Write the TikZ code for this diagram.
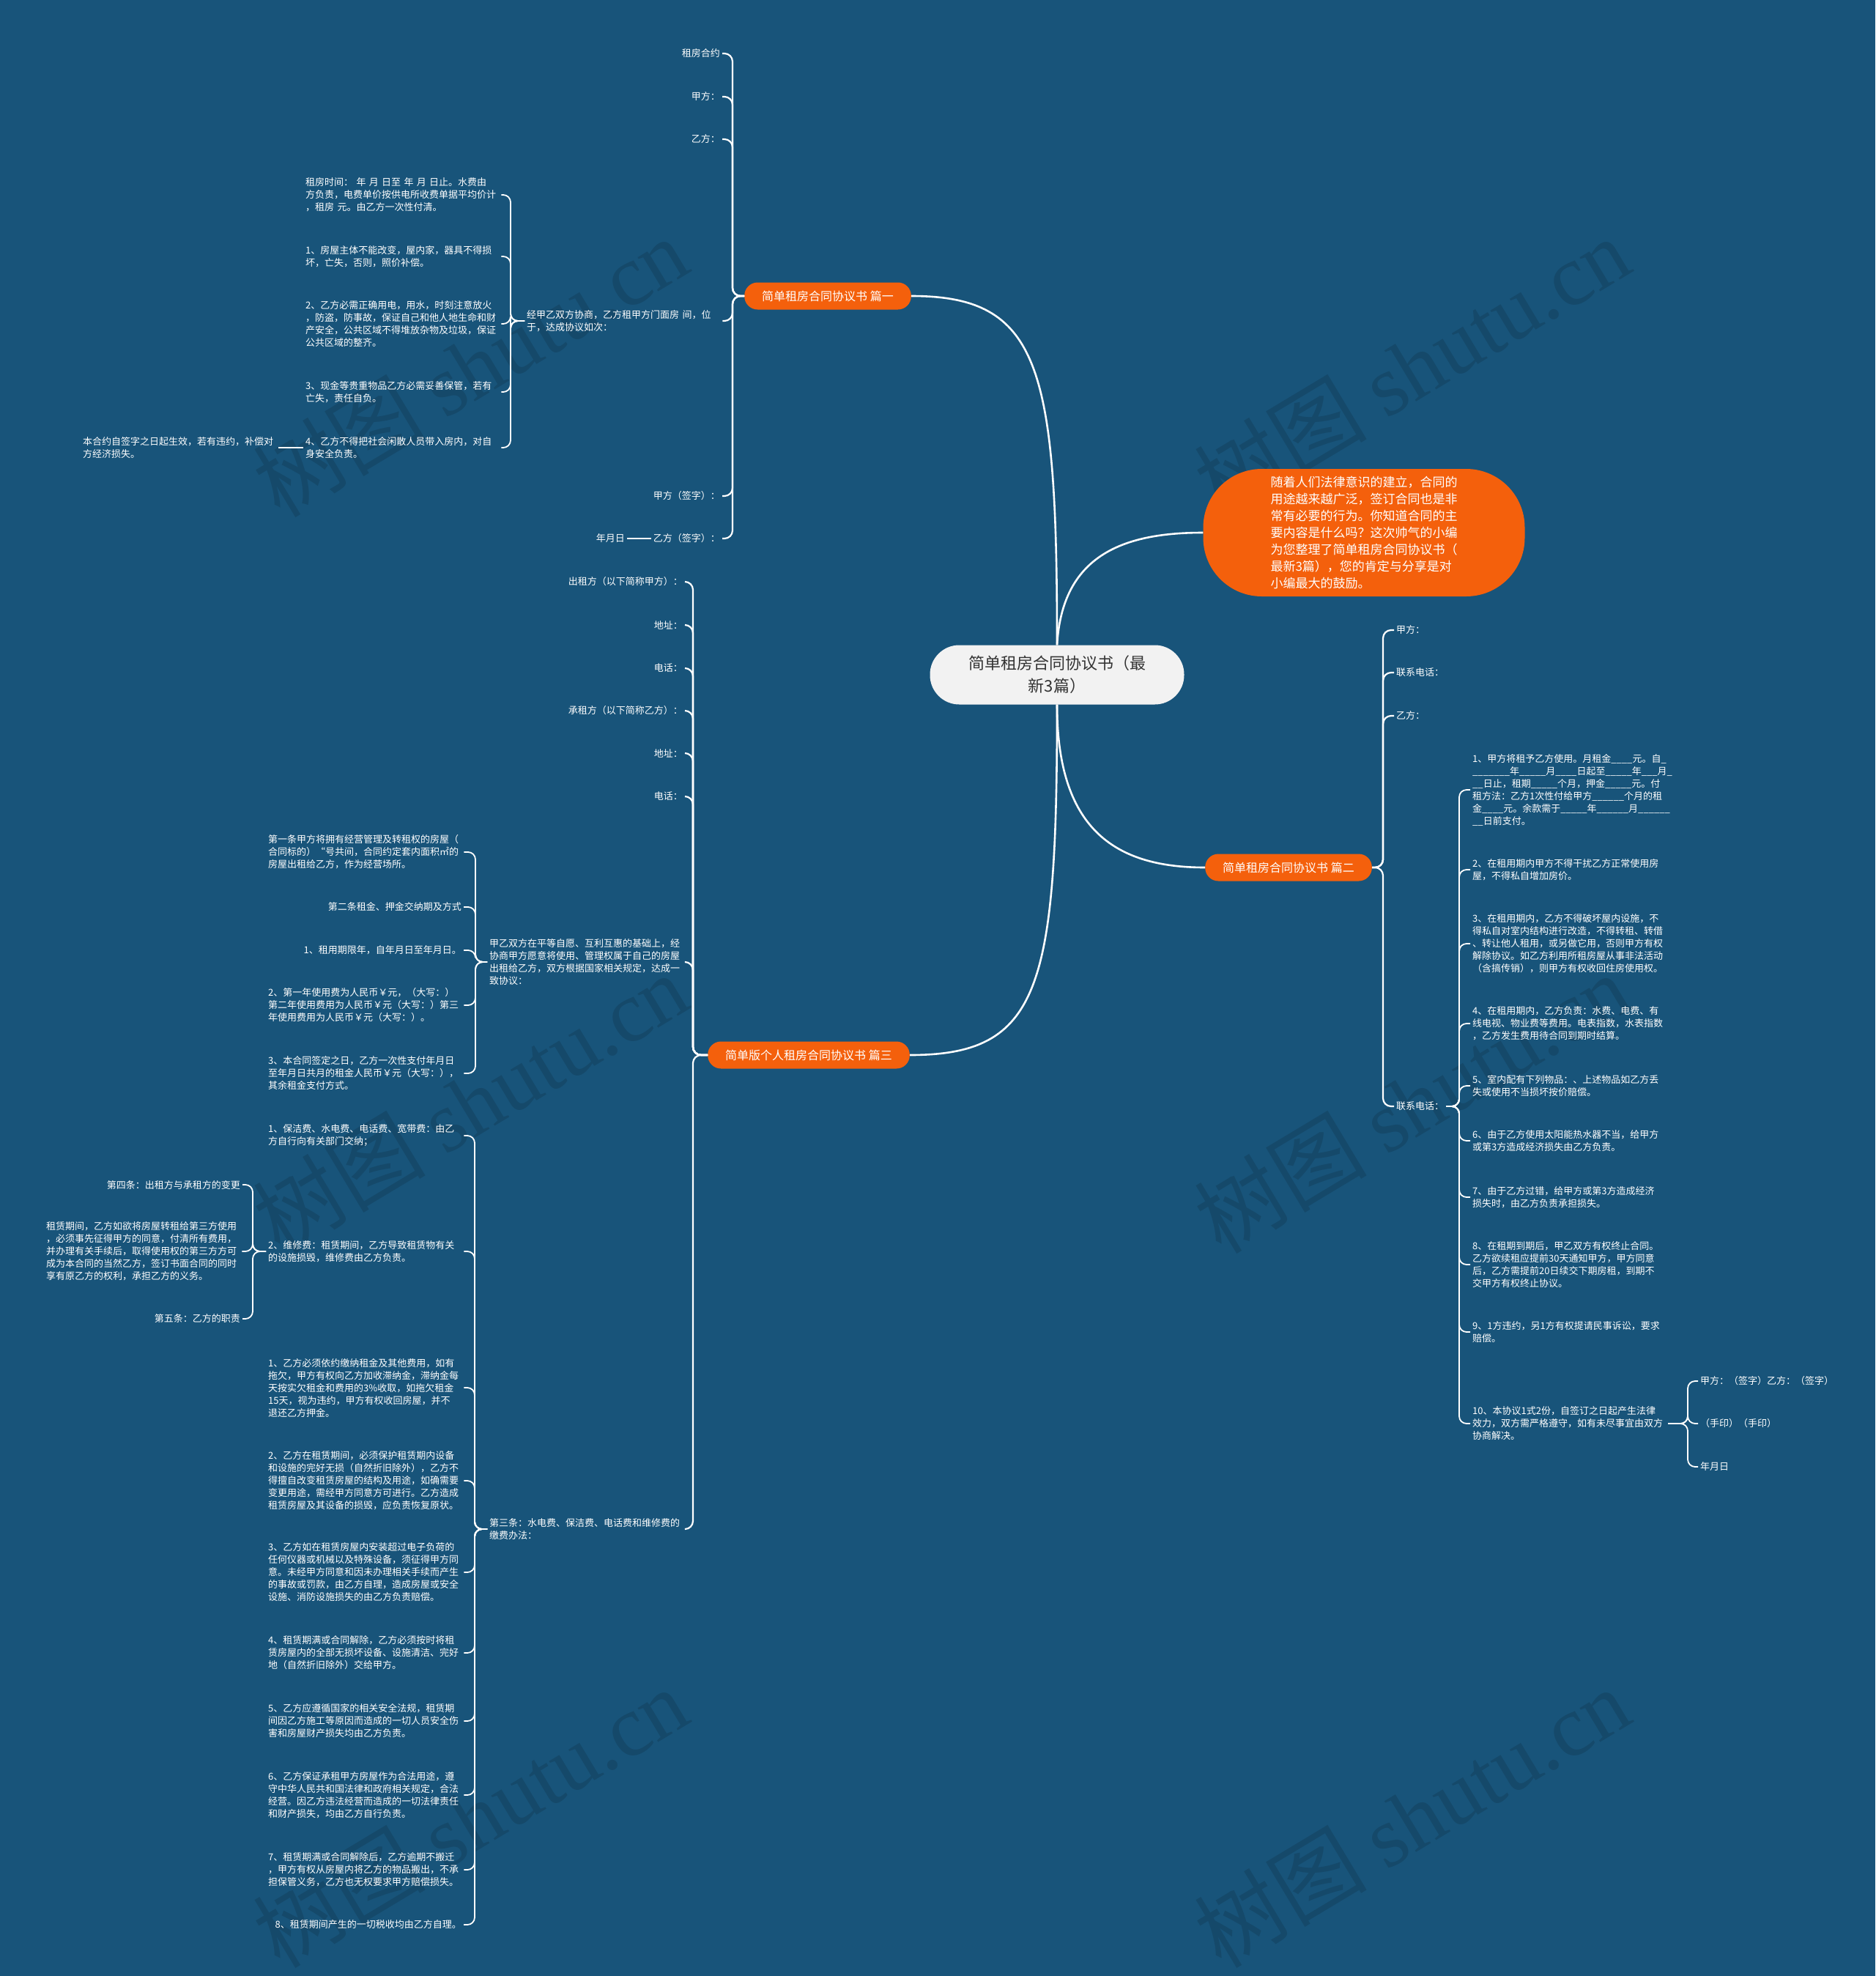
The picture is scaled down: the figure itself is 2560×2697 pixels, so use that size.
\documentclass[tikz,border=0pt]{standalone}
\usepackage{fontspec}
\setmainfont{Noto Sans CJK SC}
\newfontfamily\wmfont{Liberation Serif}
\definecolor{bg}{RGB}{24,84,122}
\definecolor{orng}{RGB}{244,96,12}
\definecolor{ctr}{RGB}{242,242,242}
\definecolor{ctrtext}{RGB}{51,51,51}
\tikzset{
  leaf/.style={text=white, font=\fontsize{13}{17}\selectfont, inner xsep=3pt, inner ysep=2pt},
  mleaf/.style={leaf, text width=264pt, align=left},
  branch/.style={rounded corners=18pt, fill=orng, text=white, font=\fontsize{16}{20}\selectfont, minimum height=37pt, inner xsep=24pt},
  edge/.style={draw=white, line width=2.2pt, rounded corners=11pt},
  subedge/.style={draw=white, line width=1.8pt, rounded corners=10pt},
  mainedge/.style={draw=white, line width=2.6pt},
  wm/.style={text=bg!87!black, rotate=31, font=\fontsize{118}{118}\selectfont, inner sep=0pt}
}
\begin{document}
\begin{tikzpicture}[x=1pt,y=-1pt]
\useasboundingbox (0,0) rectangle (2560,2697);
\fill[bg] (0,0) rectangle (2560,2697);

% watermarks
\node[wm] (wm1) at (642,500) {树图 {\wmfont shutu.cn}};
\node[wm] (wm2) at (642,1505) {树图 {\wmfont shutu.cn}};
\node[wm] (wm3) at (642,2480) {树图 {\wmfont shutu.cn}};
\node[wm] (wm4) at (1927,500) {树图 {\wmfont shutu.cn}};
\node[wm] (wm5) at (1927,1505) {树图 {\wmfont shutu.cn}};
\node[wm] (wm6) at (1927,2480) {树图 {\wmfont shutu.cn}};

% center and intro
\node[fill=ctr, rounded corners=40pt, minimum width=347pt, minimum height=81pt, text=ctrtext, align=center, font=\fontsize{22}{31}\selectfont] (C) at (1443,921) {简单租房合同协议书（最\\新3篇）};
\node[fill=orng, rounded corners=80pt, minimum width=439pt, minimum height=174pt, text=white, align=left, font=\fontsize{17}{23}\selectfont] (I) at (1862,727) {随着人们法律意识的建立，合同的\\用途越来越广泛，签订合同也是非\\常有必要的行为。你知道合同的主\\要内容是什么吗？这次帅气的小编\\为您整理了简单租房合同协议书（\\最新3篇），您的肯定与分享是对\\小编最大的鼓励。};

\node[branch] (B1) at (1130,404) {简单租房合同协议书 篇一};
\node[branch] (B2) at (1759,1184) {简单租房合同协议书 篇二};
\node[branch] (B3) at (1104,1440) {简单版个人租房合同协议书 篇三};

\draw[mainedge] (C.north) .. controls (1450,760) and (1530,727) .. (I.west);
\draw[mainedge] (C.north) .. controls (1443,500) and (1420,404) .. (B1.east);
\draw[mainedge] (C.south) .. controls (1443,1130) and (1520,1184) .. (B2.west);
\draw[mainedge] (C.south) .. controls (1443,1350) and (1420,1440) .. (B3.east);

% ---------- B1 ----------
\coordinate (B1v) at (1000,404);
\node[leaf, anchor=east] (b1a) at (986,73) {租房合约};
\node[leaf, anchor=east] (b1b) at (986,132) {甲方：};
\node[leaf, anchor=east] (b1c) at (986,190) {乙方：};
\node[mleaf, anchor=west] (b1d) at (716,438) {经甲乙双方协商，乙方租甲方门面房 间，位\\于，达成协议如次：};
\node[leaf, anchor=east] (b1e) at (986,677) {甲方（签字）：};
\node[leaf, anchor=east] (b1f) at (986,735) {乙方（签字）：};
\node[leaf, anchor=east] (b1g) at (856,735) {年月日};
\foreach \n in {b1a,b1b,b1c,b1d,b1e,b1f}{\draw[edge] (B1.west) -- (B1v) |- (\n.east);}
\draw[subedge] (b1g.east) -- (b1f.west);

\coordinate (b1dv) at (697,438);
\node[mleaf, anchor=west] (l1) at (414,266) {租房时间：  年 月 日至 年 月 日止。水费由\\方负责，电费单价按供电所收费单据平均价计\\，租房 元。由乙方一次性付清。};
\node[mleaf, anchor=west] (l2) at (414,350) {1、房屋主体不能改变，屋内家，器具不得损\\坏，亡失，否则，照价补偿。};
\node[mleaf, anchor=west] (l3) at (414,442) {2、乙方必需正确用电，用水，时刻注意放火\\，防盗，防事故，保证自己和他人地生命和财\\产安全，公共区域不得堆放杂物及垃圾，保证\\公共区域的整齐。};
\node[mleaf, anchor=west] (l4) at (414,535) {3、现金等贵重物品乙方必需妥善保管，若有\\亡失，责任自负。};
\node[mleaf, anchor=west] (l5) at (414,611) {4、乙方不得把社会闲散人员带入房内，对自\\身安全负责。};
\node[mleaf, anchor=west] (l5a) at (110,611) {本合约自签字之日起生效，若有违约，补偿对\\方经济损失。};
\foreach \n in {l1,l2,l3,l4,l5}{\draw[subedge] (b1d.west) -- (b1dv) |- (\n.east);}
\draw[subedge] (l5.west) -- (l5a.east);

% ---------- B3 ----------
\coordinate (B3v) at (946,1440);
\node[leaf, anchor=east] (b3a) at (935,794) {出租方（以下简称甲方）：};
\node[leaf, anchor=east] (b3b) at (935,853) {地址：};
\node[leaf, anchor=east] (b3c) at (935,912) {电话：};
\node[leaf, anchor=east] (b3d) at (935,970) {承租方（以下简称乙方）：};
\node[leaf, anchor=east] (b3e) at (935,1028) {地址：};
\node[leaf, anchor=east] (b3f) at (935,1087) {电话：};
\node[mleaf, anchor=west] (b3g) at (665,1313) {甲乙双方在平等自愿、互利互惠的基础上，经\\协商甲方愿意将使用、管理权属于自己的房屋\\出租给乙方，双方根据国家相关规定，达成一\\致协议：};
\node[mleaf, anchor=west] (b3h) at (665,2087) {第三条：水电费、保洁费、电话费和维修费的\\缴费办法：};
\foreach \n in {b3a,b3b,b3c,b3d,b3e,b3f,b3g,b3h}{\draw[edge] (B3.west) -- (B3v) |- (\n.east);}

\coordinate (b3gv) at (649,1313);
\node[mleaf, anchor=west] (g1) at (363,1163) {第一条甲方将拥有经营管理及转租权的房屋（\\合同标的）“号共间，合同约定套内面积㎡的\\房屋出租给乙方，作为经营场所。};
\node[leaf, anchor=east] (g2) at (633,1238) {第二条租金、押金交纳期及方式};
\node[leaf, anchor=east] (g3) at (633,1297) {1、租用期限年，自年月日至年月日。};
\node[mleaf, anchor=west] (g4) at (363,1372) {2、第一年使用费为人民币￥元，（大写：）\\第二年使用费用为人民币￥元（大写：）第三\\年使用费用为人民币￥元（大写：）。};
\node[mleaf, anchor=west] (g5) at (363,1465) {3、本合同签定之日，乙方一次性支付年月日\\至年月日共月的租金人民币￥元（大写：），\\其余租金支付方式。};
\foreach \n in {g1,g2,g3,g4,g5}{\draw[subedge] (b3g.west) -- (b3gv) |- (\n.east);}

\coordinate (b3hv) at (648,2087);
\node[mleaf, anchor=west] (h1) at (363,1550) {1、保洁费、水电费、电话费、宽带费：由乙\\方自行向有关部门交纳；};
\node[mleaf, anchor=west] (h2) at (363,1708) {2、维修费：租赁期间，乙方导致租赁物有关\\的设施损毁，维修费由乙方负责。};
\node[mleaf, anchor=west] (h3) at (363,1894) {1、乙方必须依约缴纳租金及其他费用，如有\\拖欠，甲方有权向乙方加收滞纳金，滞纳金每\\天按实欠租金和费用的3\%收取，如拖欠租金\\15天，视为违约，甲方有权收回房屋，并不\\退还乙方押金。};
\node[mleaf, anchor=west] (h4) at (363,2021) {2、乙方在租赁期间，必须保护租赁期内设备\\和设施的完好无损（自然折旧除外），乙方不\\得擅自改变租赁房屋的结构及用途，如确需要\\变更用途，需经甲方同意方可进行。乙方造成\\租赁房屋及其设备的损毁，应负责恢复原状。};
\node[mleaf, anchor=west] (h5) at (363,2146) {3、乙方如在租赁房屋内安装超过电子负荷的\\任何仪器或机械以及特殊设备，须征得甲方同\\意。未经甲方同意和因未办理相关手续而产生\\的事故或罚款，由乙方自理，造成房屋或安全\\设施、消防设施损失的由乙方负责赔偿。};
\node[mleaf, anchor=west] (h6) at (363,2256) {4、租赁期满或合同解除，乙方必须按时将租\\赁房屋内的全部无损坏设备、设施清洁、完好\\地（自然折旧除外）交给甲方。};
\node[mleaf, anchor=west] (h7) at (363,2349) {5、乙方应遵循国家的相关安全法规，租赁期\\间因乙方施工等原因而造成的一切人员安全伤\\害和房屋财产损失均由乙方负责。};
\node[mleaf, anchor=west] (h8) at (363,2450) {6、乙方保证承租甲方房屋作为合法用途，遵\\守中华人民共和国法律和政府相关规定，合法\\经营。因乙方违法经营而造成的一切法律责任\\和财产损失，均由乙方自行负责。};
\node[mleaf, anchor=west] (h9) at (363,2552) {7、租赁期满或合同解除后，乙方逾期不搬迁\\，甲方有权从房屋内将乙方的物品搬出，不承\\担保管义务，乙方也无权要求甲方赔偿损失。};
\node[leaf, anchor=east] (h10) at (633,2627) {8、租赁期间产生的一切税收均由乙方自理。};
\foreach \n in {h1,h2,h3,h4,h5,h6,h7,h8,h9,h10}{\draw[subedge] (b3h.west) -- (b3hv) |- (\n.east);}

\coordinate (h2v) at (345,1708);
\node[leaf, anchor=east] (w1) at (331,1617) {第四条：出租方与承租方的变更};
\node[mleaf, anchor=west] (w2) at (60,1708) {租赁期间，乙方如欲将房屋转租给第三方使用\\，必须事先征得甲方的同意，付清所有费用，\\并办理有关手续后，取得使用权的第三方方可\\成为本合同的当然乙方，签订书面合同的同时\\享有原乙方的权利，承担乙方的义务。};
\node[leaf, anchor=east] (w3) at (331,1800) {第五条：乙方的职责};
\foreach \n in {w1,w2,w3}{\draw[subedge] (h2.west) -- (h2v) |- (\n.east);}

% ---------- B2 ----------
\coordinate (B2v) at (1888,1184);
\node[leaf, anchor=west] (r1) at (1903,860) {甲方：};
\node[leaf, anchor=west] (r2) at (1903,918) {联系电话：};
\node[leaf, anchor=west] (r3) at (1903,977) {乙方：};
\node[leaf, anchor=west] (r4) at (1903,1510) {联系电话：};
\foreach \n in {r1,r2,r3,r4}{\draw[edge] (B2.east) -- (B2v) |- (\n.west);}

\coordinate (r4v) at (1992,1510);
\node[mleaf, anchor=west] (s1) at (2007,1078) {1、甲方将租予乙方使用。月租金\_\_\_\_元。自\_\\\_\_\_\_\_\_\_年\_\_\_\_\_月\_\_\_\_日起至\_\_\_\_\_年\_\_\_月\_\\\_\_日止，租期\_\_\_\_\_个月，押金\_\_\_\_\_元。付\\租方法：乙方1次性付给甲方\_\_\_\_\_\_个月的租\\金\_\_\_\_元。余款需于\_\_\_\_\_年\_\_\_\_\_\_月\_\_\_\_\_\_\\\_\_日前支付。};
\node[mleaf, anchor=west] (s2) at (2007,1187) {2、在租用期内甲方不得干扰乙方正常使用房\\屋，不得私自增加房价。};
\node[mleaf, anchor=west] (s3) at (2007,1288) {3、在租用期内，乙方不得破坏屋内设施，不\\得私自对室内结构进行改造，不得转租、转借\\、转让他人租用，或另做它用，否则甲方有权\\解除协议。如乙方利用所租房屋从事非法活动\\（含搞传销），则甲方有权收回住房使用权。};
\node[mleaf, anchor=west] (s4) at (2007,1397) {4、在租用期内，乙方负责：水费、电费、有\\线电视、物业费等费用。电表指数，水表指数\\，乙方发生费用待合同到期时结算。};
\node[mleaf, anchor=west] (s5) at (2007,1482) {5、室内配有下列物品：、上述物品如乙方丢\\失或使用不当损坏按价赔偿。};
\node[mleaf, anchor=west] (s6) at (2007,1557) {6、由于乙方使用太阳能热水器不当，给甲方\\或第3方造成经济损失由乙方负责。};
\node[mleaf, anchor=west] (s7) at (2007,1634) {7、由于乙方过错，给甲方或第3方造成经济\\损失时，由乙方负责承担损失。};
\node[mleaf, anchor=west] (s8) at (2007,1726) {8、在租期到期后，甲乙双方有权终止合同。\\乙方欲续租应提前30天通知甲方，甲方同意\\后，乙方需提前20日续交下期房租，到期不\\交甲方有权终止协议。};
\node[mleaf, anchor=west] (s9) at (2007,1818) {9、1方违约，另1方有权提请民事诉讼，要求\\赔偿。};
\node[mleaf, anchor=west] (s10) at (2007,1943) {10、本协议1式2份，自签订之日起产生法律\\效力，双方需严格遵守，如有未尽事宜由双方\\协商解决。};
\foreach \n in {s1,s2,s3,s4,s5,s6,s7,s8,s9,s10}{\draw[subedge] (r4.east) -- (r4v) |- (\n.west);}

\coordinate (s10v) at (2304,1943);
\node[leaf, anchor=west] (t1) at (2318,1885) {甲方：（签字）乙方：（签字）};
\node[leaf, anchor=west] (t2) at (2318,1943) {（手印）（手印）};
\node[leaf, anchor=west] (t3) at (2318,2002) {年月日};
\foreach \n in {t1,t2,t3}{\draw[subedge] (s10.east) -- (s10v) |- (\n.west);}
\end{tikzpicture}
\end{document}
